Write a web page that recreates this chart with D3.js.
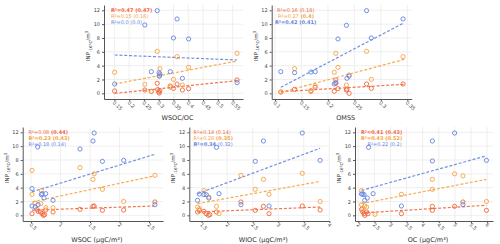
<!DOCTYPE html>
<html><head><meta charset="utf-8">
<script src="https://cdn.jsdelivr.net/npm/d3@7"></script>
<style>
html,body{margin:0;padding:0;background:#fff;}
svg{display:block;font-family:"DejaVu Sans",sans-serif;}
</style></head>
<body><svg id="c" width="500" height="244"></svg>
<script>
// ---------- DATA ----------
const yTicks = [0, 2, 4, 6, 8, 10, 12];

// Panel 1: WSOC/OC
const p1Ticks = [0.15, 0.2, 0.25, 0.3, 0.35, 0.4, 0.45, 0.5, 0.55];
const p1Red = [[0.151,0.34],[0.253,0.48],[0.275,0.3],[0.295,1.45],[0.297,0.55],[0.300,0.2],[0.302,0.05],[0.304,0.4],[0.339,1.06],[0.350,0.72],[0.362,1.35],[0.380,0.48],[0.401,0.67],[0.565,1.93]];
const p1Orange = [[0.151,3.04],[0.253,1.3],[0.275,0.24],[0.295,6.07],[0.301,2.5],[0.304,3.57],[0.339,0.87],[0.350,2.02],[0.362,5.3],[0.380,1.2],[0.401,3.76],[0.565,5.78]];
const p1Blue = [[0.151,1.35],[0.253,9.88],[0.275,3.13],[0.295,11.95],[0.301,2.99],[0.304,2.8],[0.303,2.5],[0.339,3.13],[0.350,8.0],[0.362,10.75],[0.380,2.17],[0.401,7.86],[0.565,1.54]];
const p1FitX = [0.151, 0.565];
const p1FitRed = [0.0, 1.83];
const p1FitOrange = [1.35, 4.67];
const p1FitBlue = [5.54, 4.82];
const p1R2 = [
  [["R²=0.47", true], [" (0.47)", true]],
  [["R²=0.15", false], [" (0.16)", false]],
  [["R²=0.0", false], [" (0.0)", false]]
];

// Panel 2: OMSS
const p2Ticks = [0.1, 0.15, 0.2, 0.25, 0.3, 0.35];
const p2Red = [[0.111,0.2],[0.137,0.58],[0.168,0.38],[0.176,0.87],[0.212,0.3],[0.215,1.93],[0.215,1.45],[0.219,0.67],[0.235,0.48],[0.236,0.6],[0.240,0.0],[0.273,1.35],[0.282,0.72],[0.342,1.35]];
const p2Orange = [[0.111,0.19],[0.137,3.57],[0.168,0.24],[0.176,1.06],[0.212,3.04],[0.215,5.78],[0.219,3.76],[0.235,1.2],[0.240,2.65],[0.273,6.07],[0.282,2.02],[0.342,5.3]];
const p2Blue = [[0.111,3.13],[0.137,2.99],[0.168,3.08],[0.176,3.13],[0.212,1.35],[0.215,1.54],[0.219,7.86],[0.235,9.83],[0.236,2.17],[0.240,2.5],[0.273,11.95],[0.282,8.0],[0.342,10.75]];
const p2FitX = [0.111, 0.344];
const p2FitRed = [0.24, 1.3];
const p2FitOrange = [0.14, 4.9];
const p2FitBlue = [0.87, 10.2];
const p2R2 = [
  [["R²=0.16", false], [" (0.18)", false]],
  [["R²=0.27", false], [" (0.4)", true]],
  [["R²=0.42", true], [" (0.41)", true]]
];

// Panel 3: WSOC
const p3Ticks = [0.5, 1, 1.5, 2, 2.5];
const p3Red = [[0.517,0.24],[0.60,0.87],[0.62,0.58],[0.66,0.48],[0.69,0.24],[0.71,0.0],[0.73,0.1],[0.75,0.77],[0.873,0.48],[1.33,0.87],[1.55,1.3],[1.57,1.35],[1.71,0.72],[2.07,0.77],[2.60,1.93]];
const p3Orange = [[0.517,6.5],[0.517,3.04],[0.57,1.78],[0.675,3.57],[0.665,1.7],[0.75,1.1],[0.873,1.1],[1.33,6.9],[1.55,5.2],[1.57,6.0],[1.71,3.76],[2.07,2.0],[2.60,5.78]];
const p3Blue = [[0.517,3.86],[0.517,1.35],[0.57,1.2],[0.613,9.88],[0.62,1.54],[0.675,2.99],[0.686,3.13],[0.72,2.5],[0.749,3.13],[0.873,2.17],[1.33,9.59],[1.55,10.75],[1.57,11.9],[1.71,7.8],[2.07,7.95],[2.60,1.54]];
const p3FitX = [0.517, 2.59];
const p3FitRed = [0.75, 1.35];
const p3FitOrange = [1.93, 5.7];
const p3FitBlue = [3.4, 8.8];
const p3R2 = [
  [["R²=0.08", false], [" (0.44)", true]],
  [["R²=0.23", true], [" (0.43)", true]],
  [["R²=0.18", false], [" (0.14)", false]]
];

// Panel 4: WIOC
const p4Ticks = [1.5, 2, 2.5, 3, 3.5, 4];
const p4Red = [[1.42,0.48],[1.455,0.72],[1.545,0.58],[1.59,0.24],[1.63,0.0],[1.66,0.1],[1.79,0.48],[2.27,1.93],[2.55,0.72],[2.71,1.3],[2.82,0.24],[3.47,1.35],[3.82,0.77]];
const p4Orange = [[1.42,1.2],[1.455,0.96],[1.545,3.57],[1.64,2.65],[1.79,1.3],[1.84,0.24],[2.27,5.78],[2.55,3.76],[2.71,5.2],[2.82,3.04],[3.47,6.07],[3.82,2.0]];
const p4Blue = [[1.42,2.17],[1.455,3.08],[1.545,2.99],[1.59,2.99],[1.64,2.5],[1.79,9.83],[1.84,3.13],[2.27,1.54],[2.55,7.8],[2.71,10.75],[2.82,1.35],[3.47,11.9],[3.82,7.95]];
const p4FitX = [1.42, 3.82];
const p4FitRed = [0.48, 1.2];
const p4FitOrange = [1.69, 4.9];
const p4FitBlue = [3.13, 9.7];
const p4R2 = [
  [["R²=0.14", false], [" (0.14)", false]],
  [["R²=0.28", false], [" (0.35)", true]],
  [["R²=0.34", true], [" (0.32)", false]]
];

// Panel 5: OC
const p5Ticks = [2, 2.5, 3, 3.5, 4, 4.5, 5, 5.5, 6];
const p5Red = [[2.10,0.87],[2.14,0.48],[2.18,0.24],[2.20,0.0],[2.26,0.48],[2.30,0.24],[3.34,0.24],[4.30,1.3],[4.30,0.72],[4.99,1.3],[5.25,1.93],[5.98,0.72]];
const p5Orange = [[2.10,3.57],[2.10,1.54],[2.14,0.96],[2.20,1.35],[2.26,1.2],[2.52,0.15],[3.34,3.04],[4.30,5.2],[4.30,3.76],[4.99,6.0],[5.25,5.7],[5.98,2.0]];
const p5Blue = [[2.10,3.08],[2.14,3.08],[2.18,2.99],[2.20,2.17],[2.28,2.5],[2.32,9.83],[2.46,3.13],[3.34,1.35],[4.30,7.86],[4.30,10.75],[4.99,11.9],[5.25,1.54],[5.98,7.95]];
const p5FitX = [2.10, 5.98];
const p5FitRed = [0.34, 1.45];
const p5FitOrange = [1.69, 5.2];
const p5FitBlue = [3.6, 8.6];
const p5R2 = [
  [["R²=0.41", true], [" (0.43)", true]],
  [["R²=0.43", true], [" (0.52)", true]],
  [["R²=0.22", false], [" (0.2)", false]]
];

// ---------- LAYOUT / STYLE ----------
const colors = ["#f2663a", "#f7a23e", "#6485e0"];
const yDomain = [-0.82, 12.77];

const panels = [
  {label:"WSOC/OC", left:104, right:243, top:5, bottom:99, dom:[0.115,0.585], ticks:p1Ticks, series:[p1Red,p1Orange,p1Blue], fitX:p1FitX, fits:[p1FitRed,p1FitOrange,p1FitBlue], r2:p1R2, legX:[111,111,111]},
  {label:"OMSS", left:271.7, right:411.7, top:5, bottom:99, dom:[0.0938,0.3583], ticks:p2Ticks, series:[p2Red,p2Orange,p2Blue], fitX:p2FitX, fits:[p2FitRed,p2FitOrange,p2FitBlue], r2:p2R2, legX:[277,278,275]},
  {label:"WSOC (µgC/m³)", left:22.7, right:163, top:127, bottom:221, dom:[0.359,2.737], ticks:p3Ticks, series:[p3Red,p3Orange,p3Blue], fitX:p3FitX, fits:[p3FitRed,p3FitOrange,p3FitBlue], r2:p3R2, legX:[28.5,28.5,28.5]},
  {label:"WIOC (µgC/m³)", left:189.3, right:329.3, top:127, bottom:221, dom:[1.258,4.0], ticks:p4Ticks, series:[p4Red,p4Orange,p4Blue], fitX:p4FitX, fits:[p4FitRed,p4FitOrange,p4FitBlue], r2:p4R2, legX:[193.5,193.5,193.5]},
  {label:"OC (µgC/m³)", left:355, right:493, top:127, bottom:221, dom:[1.898,6.183], ticks:p5Ticks, series:[p5Red,p5Orange,p5Blue], fitX:p5FitX, fits:[p5FitRed,p5FitOrange,p5FitBlue], r2:p5R2, legX:[361,361,367.5]}
];

const svg = d3.select("#c");

panels.forEach(p => {
  const x = d3.scaleLinear().domain(p.dom).range([p.left, p.right]);
  const y = d3.scaleLinear().domain(yDomain).range([p.bottom, p.top]);
  const g = svg.append("g");

  // grid
  g.append("g").selectAll("line").data(p.ticks).join("line")
    .attr("x1", d => x(d)).attr("x2", d => x(d))
    .attr("y1", p.top).attr("y2", p.bottom)
    .attr("stroke", "#ebebeb").attr("stroke-width", 0.8);
  g.append("g").selectAll("line").data(yTicks).join("line")
    .attr("x1", p.left).attr("x2", p.right)
    .attr("y1", d => y(d)).attr("y2", d => y(d))
    .attr("stroke", "#ebebeb").attr("stroke-width", 0.8);

  // axes
  const xa = g.append("g").attr("transform", `translate(0,${p.bottom})`)
    .call(d3.axisBottom(x).tickValues(p.ticks).tickSize(2).tickSizeOuter(0).tickPadding(2).tickFormat(d => String(d)));
  xa.select(".domain").attr("stroke", "#555").attr("stroke-width", 1);
  xa.selectAll(".tick line").attr("stroke", "#555");
  xa.selectAll(".tick text")
    .attr("font-size", 5).attr("fill", "#444").attr("font-family", "DejaVu Sans")
    .attr("text-anchor", "start")
    .attr("dy", null).attr("y", 0)
    .attr("transform", "translate(-2.5,4) rotate(45)");

  const ya = g.append("g").attr("transform", `translate(${p.left},0)`)
    .call(d3.axisLeft(y).tickValues(yTicks).tickSize(2).tickSizeOuter(0).tickPadding(2));
  ya.select(".domain").attr("stroke", "#555").attr("stroke-width", 1);
  ya.selectAll(".tick line").attr("stroke", "#555");
  ya.selectAll(".tick text").attr("font-size", 5).attr("fill", "#444").attr("font-family", "DejaVu Sans");

  // x label
  g.append("text").attr("x", (p.left + p.right) / 2 + 4).attr("y", p.bottom + 21)
    .attr("text-anchor", "middle").attr("font-size", 6.5).attr("fill", "#333").text(p.label);

  // y label
  const yl = g.append("text")
    .attr("transform", `translate(${p.left - 14},${(p.top + p.bottom) / 2 - 6}) rotate(-90)`)
    .attr("text-anchor", "middle").attr("font-size", 5.5).attr("fill", "#333");
  yl.append("tspan").text("INP");
  yl.append("tspan").attr("font-size", 4).attr("dy", 1.5).text("-16°C");
  yl.append("tspan").attr("dy", -1.5).text("/m");
  yl.append("tspan").attr("font-size", 4).attr("dy", -2).text("3");

  // fit lines
  p.fits.forEach((f, i) => {
    g.append("path")
      .datum(p.fitX.map((xv, k) => [xv, f[k]]))
      .attr("d", d3.line().x(d => x(d[0])).y(d => y(d[1])))
      .attr("fill", "none").attr("stroke", colors[i]).attr("stroke-width", 1.2)
      .attr("stroke-dasharray", "3,1.8").attr("opacity", 0.9);
  });

  // points
  p.series.forEach((s, i) => {
    g.append("g").selectAll("circle").data(s).join("circle")
      .attr("cx", d => x(d[0])).attr("cy", d => y(d[1])).attr("r", 2.1)
      .attr("fill", "none").attr("stroke", colors[i]).attr("stroke-width", 0.9);
  });

  // R2 legend
  p.r2.forEach((parts, i) => {
    const t = g.append("text").attr("x", p.legX[i]).attr("y", p.top + 7 + i * 6)
      .attr("font-size", 5).attr("fill", colors[i]);
    parts.forEach(([txt, b]) => t.append("tspan").attr("font-weight", b ? "bold" : "normal").text(txt));
  });
});
</script></body></html>
